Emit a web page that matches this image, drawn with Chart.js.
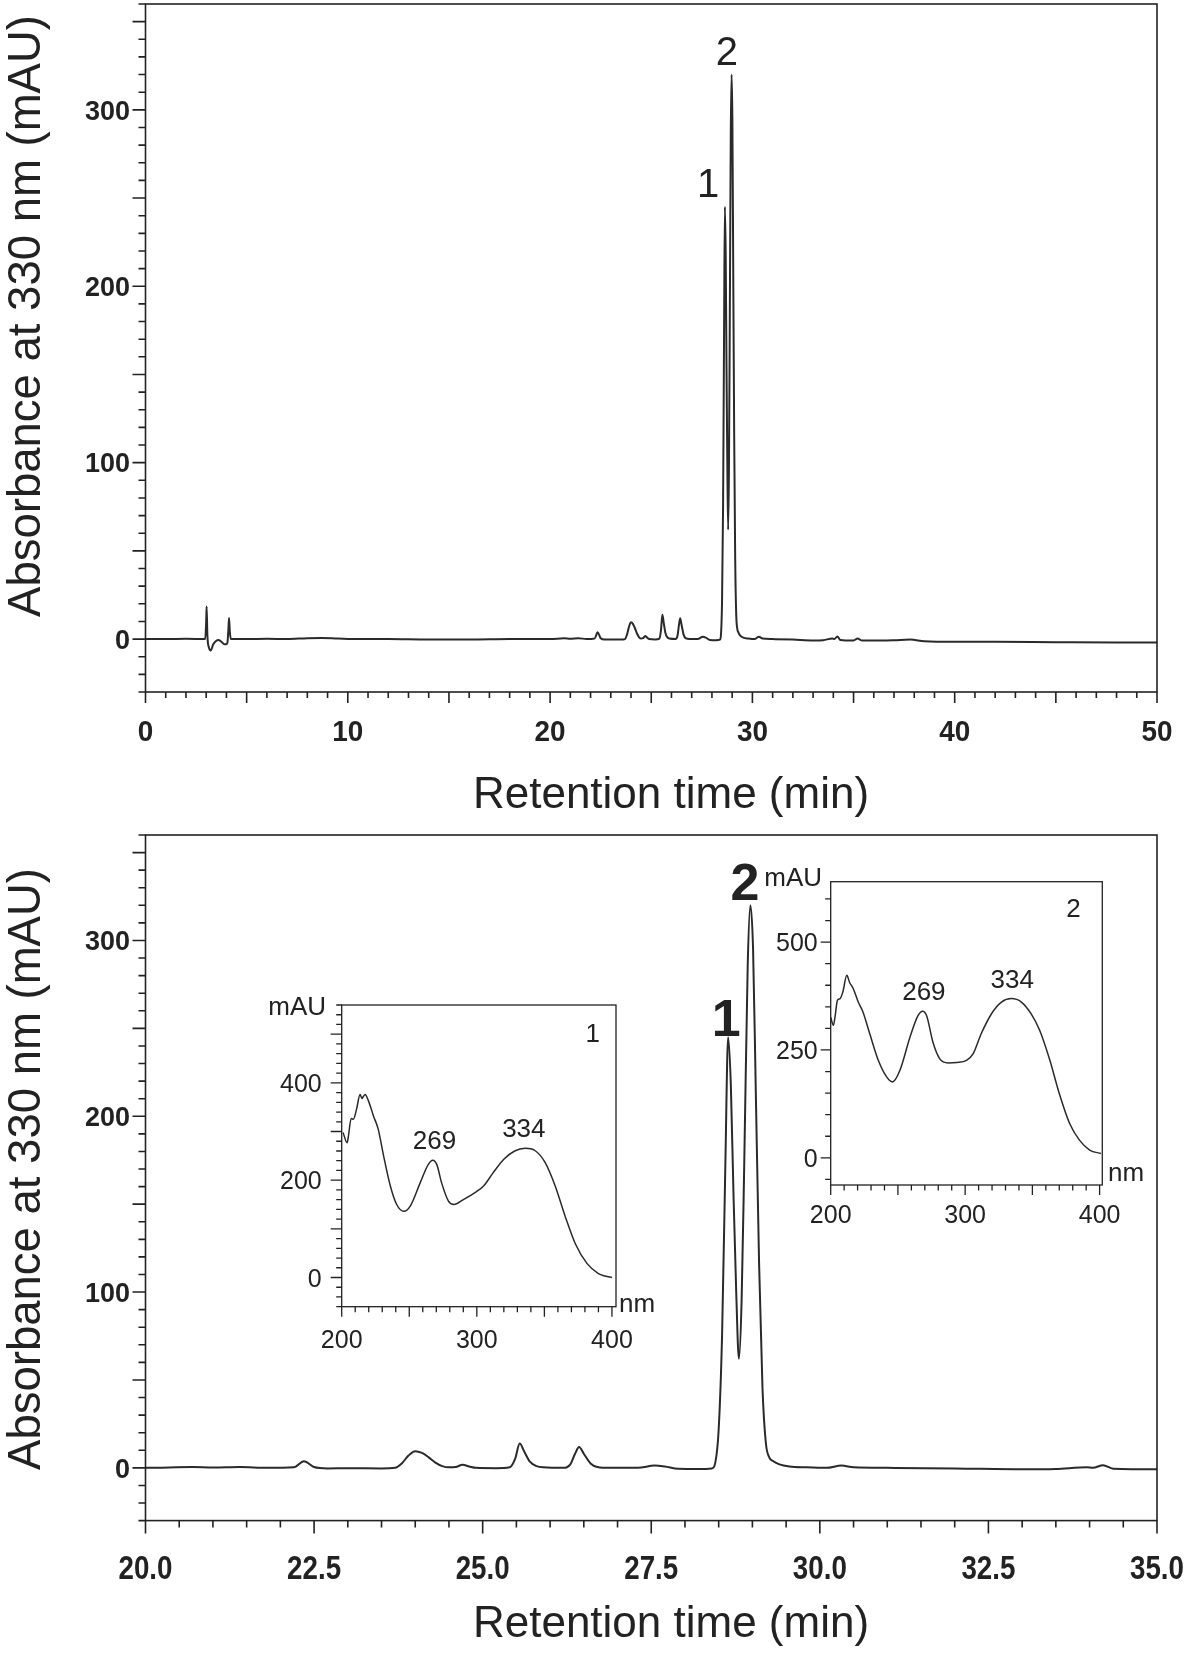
<!DOCTYPE html>
<html>
<head>
<meta charset="utf-8">
<script src="https://cdn.jsdelivr.net/npm/chart.js@4.4.0/dist/chart.umd.min.js"></script>
<style>
  html, body { margin: 0; padding: 0; background: #fff; }
  #page { position: relative; width: 1200px; height: 1654px; overflow: hidden; }
  #page canvas { position: absolute; }
</style>
</head>
<body>
<div id="page">
  <canvas id="fullRun" width="1200" height="830" style="left:0;top:0"></canvas>
  <canvas id="zoomRun" width="1200" height="824" style="left:0;top:830px"></canvas>
  <canvas id="spec1" width="420" height="380" style="left:240px;top:985px"></canvas>
  <canvas id="spec2" width="440" height="390" style="left:740px;top:855px"></canvas>
</div>
<script>
// chromatogram (min, mAU)
const retentionTime = [
  0, 1, 2, 2.95, 3.0, 3.02, 3.06, 3.14, 3.22, 3.35, 3.5, 3.6, 3.75, 3.9, 3.98, 4.05, 4.1, 4.13, 4.17, 4.22,
  5, 6, 7, 8, 8.7, 9.5, 10.5, 12, 14, 16, 18, 20, 20.7, 21.0, 21.4, 21.8, 22.2,
  22.35, 22.5, 22.7, 23.0, 23.5, 23.7, 23.8, 23.9, 24.0, 24.1, 24.2, 24.3, 24.4, 24.5, 24.6, 24.7, 24.8, 24.9, 25.2,
  25.4, 25.48, 25.55, 25.62, 25.7, 25.8, 25.9, 26.2, 26.3, 26.37, 26.43, 26.5, 26.6, 26.7, 26.9, 27.3, 27.55, 27.7, 27.9, 28.2, 28.4,
  28.45, 28.5, 28.55, 28.6, 28.64, 28.68, 28.72, 28.76, 28.8, 28.84, 28.88, 28.93, 28.97, 29.01, 29.05, 29.1, 29.15, 29.2, 29.25, 29.3, 29.4, 29.55, 29.8,
  30.1, 30.32, 30.5, 31, 32, 33, 33.5, 33.96, 34.05, 34.2, 34.35, 35, 35.2, 35.4, 36, 37, 37.8, 38.5, 40, 42, 45, 48, 50
];
const absorbance = [
  0, 0, 0.2, 0, 10, 18.5, 2, -5, -6.5, -3, -1, -0.5, -1.5, -3, -3, -2, 6, 12, 4, 0,
  0, 0.2, 0, 0.5, 0.6, 0.3, 0, 0, -0.3, -0.3, 0, 0, 0.5, 0.2, 0.5, 0, 0.3,
  3.8, 0.5, -0.3, -0.2, -0.3, 0, 2.5, 7, 9.5, 8.5, 6, 3, 1, 0.3, 0.5, 1.7, 0.8, 0, -0.2,
  0.3, 5, 13.8, 9, 3.5, 1, 0.3, 0, 2, 8, 11.8, 8, 2.5, 0.5, 0, 0, 1.3, 0.8, -0.5, -0.6, -0.3,
  3, 22, 75, 175, 245, 218, 155, 100, 62, 95, 175, 285, 320, 295, 215, 115, 45, 14, 6, 4, 2, 0.8, 0.3,
  0, 1.3, 0.3, 0, -0.3, -0.8, -0.6, 0.3, 0, 1.5, -0.5, -0.8, 0.3, -0.8, -0.8, -0.6, -0.3, -1.2, -1.5, -1.5, -1.8, -2, -2
];

// UV spectra of peak 1 and peak 2 (nm, mAU)
const wavelength1 = [201, 204, 205, 207, 208.6, 211, 213.6, 215, 216, 217.3, 219.8, 223.5, 227, 231, 236, 240.7, 246, 250.6, 258, 264,
  267.4, 270.4, 274, 279, 283, 290, 300, 305, 312, 320, 328, 335.8, 343, 350.6, 358, 365.4, 372.8, 381.5, 390, 395, 400];
const spectrum1 = [298, 277, 291, 327, 325, 346, 376, 368, 372, 376, 363, 332, 305, 250, 188, 150, 136, 146, 194, 232,
  241, 232, 194, 157, 150, 160, 177, 188, 215, 243, 260, 265.5, 261, 236, 188, 125.5, 70, 29, 8, 3, 0];
const wavelength2 = [200, 202, 203.2, 205, 207, 209, 212, 214, 216.8, 220.5, 224, 229, 235.4, 241.6, 246, 251.5, 259, 265, 268.3, 271.3,
  276, 281, 287.4, 293.6, 301, 306, 312, 319.6, 327, 334.4, 341.8, 349, 355.4, 363, 370, 377.7, 385, 392.6, 401];
const spectrum2 = [326, 307, 326, 365, 369, 384, 423, 407, 392, 361, 338, 288, 226, 187.5, 176, 203, 280, 330, 340, 330,
  268.5, 230, 220, 221, 226, 241.5, 288, 334, 361, 369, 361, 334, 295.5, 226, 149, 79.5, 41, 18, 10];

// tick labels
const fullTimeTicks = [0, 10, 20, 30, 40, 50];
const zoomTimeTicks = [20, 22.5, 25, 27.5, 30, 32.5, 35];
const absTicks = [0, 100, 200, 300];
const nmTicks = [200, 300, 400];
const spec1Ticks = [0, 200, 400];
const spec2Ticks = [0, 250, 500];

const SANS = '"Liberation Sans", Arial, Helvetica, sans-serif';
const INK = '#222';

function tickMarks(min, max, minor, major) {
  const out = [];
  const n0 = Math.ceil(min / minor - 1e-6), n1 = Math.floor(max / minor + 1e-6);
  for (let n = n0; n <= n1; n++) {
    const v = +(n * minor).toFixed(6);
    const r = v / major;
    out.push({ v: v, major: Math.abs(r - Math.round(r)) < 1e-6 });
  }
  return out;
}

// text with optional horizontal squeeze (the print uses a condensed face)
function drawText(ctx, text, x, y, squeeze) {
  if (!squeeze || squeeze === 1) { ctx.fillText(text, x, y); return; }
  ctx.save();
  ctx.translate(x, y);
  ctx.scale(squeeze, 1);
  ctx.fillText(text, 0, 0);
  ctx.restore();
}

// frame, outward ticks, tick labels and text notes
function framePlugin(f) {
  return {
    id: 'frame',
    afterDatasetsDraw(chart) {
      const ctx = chart.ctx, a = chart.chartArea;
      const xs = chart.scales.x, ys = chart.scales.y;
      ctx.save();
      ctx.strokeStyle = INK;
      ctx.lineWidth = f.lineWidth;
      ctx.strokeRect(a.left, a.top, a.right - a.left, a.bottom - a.top);
      ctx.beginPath();
      tickMarks(xs.min, xs.max, f.x.minor, f.x.major).forEach(m => {
        const p = xs.getPixelForValue(m.v);
        ctx.moveTo(p, a.bottom);
        ctx.lineTo(p, a.bottom + (m.major ? f.x.majorLen : f.x.minorLen));
      });
      tickMarks(ys.min, ys.max, f.y.minor, f.y.major).forEach(m => {
        const p = ys.getPixelForValue(m.v);
        ctx.moveTo(a.left, p);
        ctx.lineTo(a.left - (m.major ? f.y.majorLen : f.y.minorLen), p);
      });
      ctx.stroke();

      ctx.fillStyle = INK;
      ctx.textBaseline = 'alphabetic';
      ctx.font = f.x.font;
      ctx.textAlign = 'center';
      f.x.labels.forEach(v => {
        drawText(ctx, v.toFixed(f.x.decimals), xs.getPixelForValue(v), a.bottom + f.x.labelOffset, f.x.squeeze);
      });
      ctx.font = f.y.font;
      ctx.textAlign = 'right';
      f.y.labels.forEach(v => {
        ctx.fillText(String(v), a.left - f.y.labelGap, ys.getPixelForValue(v) + f.y.size * 0.36);
      });

      f.notes.forEach(n => {
        ctx.font = n.font;
        ctx.textAlign = n.align || 'center';
        if (n.data) {
          const px = xs.getPixelForValue(n.x), py = ys.getPixelForValue(n.y);
          ctx.fillText(n.text, px, py + n.size * 0.36);
        } else if (n.rotate) {
          ctx.save();
          ctx.translate(n.x, n.y);
          ctx.rotate(-Math.PI / 2);
          ctx.fillText(n.text, 0, 0);
          ctx.restore();
        } else {
          ctx.fillText(n.text, n.x, n.y);
        }
      });
      ctx.restore();
    }
  };
}

function makeChart(id, xVals, yVals, xRange, yRange, pad, lineWidth, frame) {
  return new Chart(document.getElementById(id), {
    type: 'line',
    data: {
      datasets: [{
        data: xVals.map((x, i) => ({ x: x, y: yVals[i] })),
        borderColor: '#2a2a2a',
        borderWidth: lineWidth,
        pointRadius: 0,
        fill: false,
        cubicInterpolationMode: 'monotone'
      }]
    },
    options: {
      responsive: false,
      animation: false,
      devicePixelRatio: 1,
      events: [],
      layout: { padding: pad },
      plugins: { legend: { display: false }, tooltip: { enabled: false } },
      scales: {
        x: { type: 'linear', display: false, min: xRange[0], max: xRange[1] },
        y: { type: 'linear', display: false, min: yRange[0], max: yRange[1] }
      }
    },
    plugins: [framePlugin(frame)]
  });
}

const absAxis = {
  minor: 10, major: 50, minorLen: 7, majorLen: 13,
  labels: absTicks, font: 'bold 27px ' + SANS, size: 27, labelGap: 15.5
};
const yTitle = 'Absorbance at 330 nm (mAU)';
const xTitle = 'Retention time (min)';

makeChart('fullRun', retentionTime, absorbance, [0, 50], [-30, 360],
  { left: 145.5, right: 43, top: 4, bottom: 138 }, 2, {
    lineWidth: 1.6,
    x: { minor: 1, major: 5, minorLen: 6, majorLen: 11, labels: fullTimeTicks, decimals: 0,
         font: 'bold 30px ' + SANS, labelOffset: 49, squeeze: 0.93 },
    y: absAxis,
    notes: [
      { text: '1', data: true, x: 27.81, y: 258.6, size: 40, font: '40px ' + SANS },
      { text: '2', data: true, x: 28.74, y: 333.5, size: 40, font: '40px ' + SANS },
      { text: xTitle, x: 671, y: 808, font: '44px ' + SANS },
      { text: yTitle, rotate: true, x: 40, y: 316, font: '45.5px ' + SANS }
    ]
  });

makeChart('zoomRun', retentionTime, absorbance, [20, 35], [-30, 360],
  { left: 145.5, right: 43, top: 5, bottom: 133.4 }, 2, {
    lineWidth: 1.6,
    x: { minor: 0.5, major: 2.5, minorLen: 7, majorLen: 13, labels: zoomTimeTicks, decimals: 1,
         font: 'bold 33px ' + SANS, labelOffset: 58, squeeze: 0.84 },
    y: absAxis,
    notes: [
      { text: '1', data: true, x: 28.61, y: 256.4, size: 52, font: 'bold 52px ' + SANS },
      { text: '2', data: true, x: 28.89, y: 333.4, size: 52, font: 'bold 52px ' + SANS },
      { text: xTitle, x: 671, y: 807, font: '44px ' + SANS },
      { text: yTitle, rotate: true, x: 40, y: 339, font: '45.5px ' + SANS }
    ]
  });

makeChart('spec1', wavelength1, spectrum1, [200, 403], [-60, 560],
  { left: 101.7, right: 44, top: 20, bottom: 58.3 }, 1.5, {
    lineWidth: 1.3,
    x: { minor: 10, major: 50, minorLen: 5.5, majorLen: 10, labels: nmTicks, decimals: 0,
         font: '25px ' + SANS, labelOffset: 41 },
    y: { minor: 20, major: 100, minorLen: 5.5, majorLen: 11, labels: spec1Ticks,
         font: '25px ' + SANS, size: 25, labelGap: 20 },
    notes: [
      { text: '269', data: true, x: 268.7, y: 284, size: 26, font: '26px ' + SANS },
      { text: '334', data: true, x: 334.8, y: 308.8, size: 26, font: '26px ' + SANS },
      { text: '1', data: true, x: 385.8, y: 503, size: 26, font: '26px ' + SANS },
      { text: 'mAU', align: 'right', x: 86, y: 30, font: '26px ' + SANS },
      { text: 'nm', align: 'left', x: 379, y: 327, font: '26px ' + SANS }
    ]
  });

makeChart('spec2', wavelength2, spectrum2, [200, 402], [-63, 640],
  { left: 90.7, right: 77.7, top: 26.7, bottom: 60 }, 1.5, {
    lineWidth: 1.3,
    x: { minor: 10, major: 50, minorLen: 5.5, majorLen: 10, labels: nmTicks, decimals: 0,
         font: '25px ' + SANS, labelOffset: 38 },
    y: { minor: 50, major: 250, minorLen: 5.5, majorLen: 10, labels: spec2Ticks,
         font: '25px ' + SANS, size: 25, labelGap: 13 },
    notes: [
      { text: '269', data: true, x: 269.3, y: 387.7, size: 26, font: '26px ' + SANS },
      { text: '334', data: true, x: 335, y: 416, size: 26, font: '26px ' + SANS },
      { text: '2', data: true, x: 380.6, y: 579, size: 26, font: '26px ' + SANS },
      { text: 'mAU', align: 'right', x: 82, y: 31, font: '26px ' + SANS },
      { text: 'nm', align: 'left', x: 368, y: 326, font: '26px ' + SANS }
    ]
  });
</script>
</body>
</html>
